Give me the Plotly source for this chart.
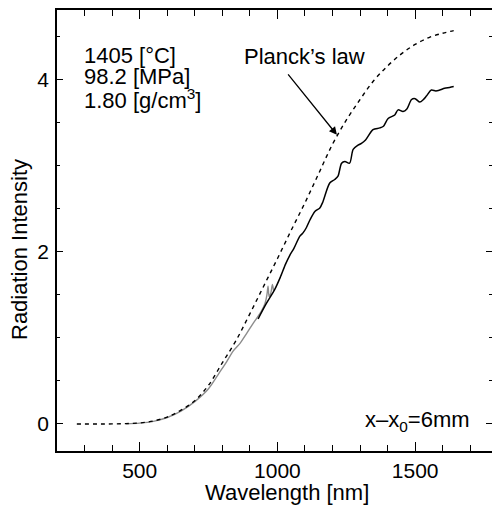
import plotly.graph_objects as go

# Planck's law (dashed)
planck_x = [272, 350, 400, 450, 500, 550, 600, 650, 700, 750, 800, 850, 900, 950,
            1000, 1050, 1100, 1150, 1200, 1250, 1300, 1350, 1400, 1450, 1500, 1550, 1600, 1640]
planck_y = [0, 0, 0.001, 0.004, 0.012, 0.035, 0.08, 0.16, 0.27, 0.45, 0.71, 0.97, 1.28, 1.60,
            1.92, 2.25, 2.57, 2.91, 3.25, 3.53, 3.77, 3.99, 4.16, 4.30, 4.41, 4.49, 4.54, 4.57]

# measured spectrum, short-wavelength detector (gray)
gray_x = [450, 500, 550, 600, 650, 700, 750, 790, 815, 840, 865, 888, 912, 940, 955, 962, 966, 970, 976, 982, 986]
gray_y = [0.003, 0.01, 0.03, 0.075, 0.15, 0.26, 0.41, 0.60, 0.72, 0.85, 0.94, 1.05, 1.17, 1.30, 1.40, 1.50, 1.60, 1.48, 1.52, 1.62, 1.55]

# measured spectrum, long-wavelength detector (black)
black_x = [930, 960, 990, 1010, 1030, 1045, 1060, 1081, 1093, 1105, 1118, 1136, 1154, 1165,
           1190, 1208, 1220, 1233, 1245, 1262, 1275, 1293, 1305, 1320, 1347, 1372, 1385, 1402,
           1426, 1438, 1456, 1470, 1487, 1500, 1517, 1530, 1541, 1559, 1575, 1589, 1607, 1625, 1640]
black_y = [1.22, 1.40, 1.56, 1.70, 1.86, 1.96, 2.04, 2.18, 2.22, 2.28, 2.37, 2.47, 2.51, 2.58,
           2.80, 2.84, 2.88, 3.03, 3.05, 3.03, 3.19, 3.24, 3.26, 3.30, 3.42, 3.44, 3.46, 3.55,
           3.59, 3.65, 3.63, 3.66, 3.77, 3.78, 3.74, 3.77, 3.81, 3.88, 3.87, 3.88, 3.90, 3.91, 3.92]

conditions = ["1405 [°C]", "98.2 [MPa]", "1.80 [g/cm<sup>3</sup>]"]

FONT = "Liberation Sans, Arial, sans-serif"
W, H = 492, 505
L, R, T, B = 57, 0, 10, 54
PW, PH = W - L - R, H - T - B


def px(x):
    return (x - L) / PW


def py(y):
    return (H - B - y) / PH


fig = go.Figure()
fig.add_trace(go.Scatter(x=gray_x, y=gray_y, mode="lines",
                         line=dict(color="#8c8c8c", width=1.4, shape="spline", smoothing=0.8),
                         showlegend=False))
fig.add_trace(go.Scatter(x=black_x, y=black_y, mode="lines",
                         line=dict(color="black", width=1.5, shape="spline", smoothing=0.8),
                         showlegend=False))
fig.add_trace(go.Scatter(x=planck_x, y=planck_y, mode="lines",
                         line=dict(color="black", width=1.4, dash="4px,4px", shape="spline"),
                         showlegend=False))

TXT = 22
annotations = []
for i, t in enumerate(conditions):
    annotations.append(dict(text=t, xref="paper", yref="paper", x=px(82), y=py(55 + 22 * i),
                            xanchor="left", yanchor="middle", showarrow=False,
                            font=dict(size=TXT, family=FONT, color="black")))
annotations.append(dict(text="Planck’s law", xref="paper", yref="paper", x=px(304), y=py(56),
                        xanchor="center", yanchor="middle", showarrow=False,
                        font=dict(size=TXT, family=FONT, color="black")))
annotations.append(dict(text="", x=1216, y=3.36, xref="x", yref="y", showarrow=True,
                        ax=-50, ay=-62, arrowhead=2, arrowsize=1.2, arrowwidth=1.3,
                        arrowcolor="black"))
annotations.append(dict(text="x–x<sub>0</sub>=6mm", xref="paper", yref="paper", x=px(472), y=py(421),
                        xanchor="right", yanchor="middle", showarrow=False,
                        font=dict(size=TXT, family=FONT, color="black")))
annotations.append(dict(text="Wavelength [nm]", xref="paper", yref="paper", x=px(287), y=py(492),
                        xanchor="center", yanchor="middle", showarrow=False,
                        font=dict(size=TXT, family=FONT, color="black")))
annotations.append(dict(text="Radiation Intensity", xref="paper", yref="paper", x=px(20), y=py(250),
                        xanchor="center", yanchor="middle", showarrow=False, textangle=-90,
                        font=dict(size=TXT, family=FONT, color="black")))

fig.update_layout(
    width=W, height=H,
    margin=dict(l=L, r=R, t=T, b=B, autoexpand=False),
    paper_bgcolor="white", plot_bgcolor="white",
    font=dict(family=FONT, size=21, color="black"),
    annotations=annotations,
    xaxis=dict(range=[200, 1779], showgrid=False, zeroline=False, automargin=False,
               showline=True, linecolor="black", linewidth=1.5, mirror="allticks",
               ticks="inside", ticklen=9, tickwidth=1.2, tickcolor="black",
               tickvals=[500, 1000, 1500], ticktext=["500", "1000", "1500"],
               tickfont=dict(size=21, family=FONT),
               minor=dict(dtick=100, tick0=0, ticks="inside", ticklen=6, tickwidth=1.2, tickcolor="black")),
    yaxis=dict(range=[-0.314, 4.81], showgrid=False, zeroline=False, automargin=False,
               showline=True, linecolor="black", linewidth=1.5, mirror="allticks",
               ticks="inside", ticklen=6, tickwidth=1.2, tickcolor="black",
               tickvals=[0, 2, 4], ticktext=["0", "2", "4"], ticklabelstandoff=2,
               tickfont=dict(size=21, family=FONT),
               minor=dict(dtick=0.5, tick0=0, ticks="inside", ticklen=3, tickwidth=1.2, tickcolor="black")),
)

fig.write_html("out.html", config={"displayModeBar": False},
               post_script="document.body.style.margin='0';document.body.style.overflow='hidden';")
